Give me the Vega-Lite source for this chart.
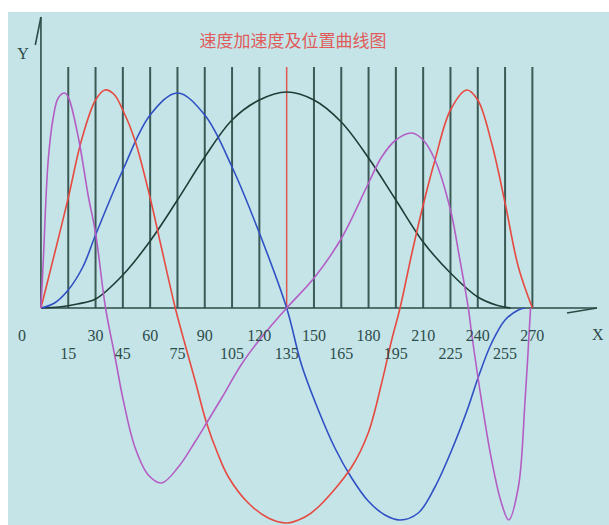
{
  "$schema": "https://vega.github.io/schema/vega-lite/v6.json",
  "width": 601,
  "height": 513,
  "autosize": {"type": "none"},
  "padding": {"left": 8, "top": 12, "right": 0, "bottom": 0},
  "background": "white",
  "config": {"view": {"fill": "#c4e4e8", "stroke": null}},
  "datasets": {
    "grid": [
      {"x": 15, "y": 0, "y2": 241}, {"x": 30, "y": 0, "y2": 241}, {"x": 45, "y": 0, "y2": 241},
      {"x": 60, "y": 0, "y2": 241}, {"x": 75, "y": 0, "y2": 241}, {"x": 90, "y": 0, "y2": 241},
      {"x": 105, "y": 0, "y2": 241}, {"x": 120, "y": 0, "y2": 241}, {"x": 150, "y": 0, "y2": 241},
      {"x": 165, "y": 0, "y2": 241}, {"x": 180, "y": 0, "y2": 241}, {"x": 195, "y": 0, "y2": 241},
      {"x": 210, "y": 0, "y2": 241}, {"x": 225, "y": 0, "y2": 241}, {"x": 240, "y": 0, "y2": 241},
      {"x": 255, "y": 0, "y2": 241}, {"x": 270, "y": 0, "y2": 241}
    ],
    "mid": [{"x": 135, "y": 0, "y2": 241}],
    "axes": [
      {"x": 0, "y": 0, "x2": 0, "y2": 291},
      {"x": 0, "y": 291, "x2": -3.1, "y2": 263},
      {"x": 0, "y": 0, "x2": 305.5, "y2": 0},
      {"x": 289, "y": -5, "x2": 305.5, "y2": 0}
    ],
    "curves": [
      {"s": "pos", "x": 0, "y": 0}, {"s": "pos", "x": 10, "y": 1}, {"s": "pos", "x": 20, "y": 4},
      {"s": "pos", "x": 30, "y": 9}, {"s": "pos", "x": 45, "y": 33}, {"s": "pos", "x": 60, "y": 67},
      {"s": "pos", "x": 75, "y": 108}, {"s": "pos", "x": 90, "y": 151}, {"s": "pos", "x": 105, "y": 188},
      {"s": "pos", "x": 120, "y": 208}, {"s": "pos", "x": 135, "y": 216}, {"s": "pos", "x": 150, "y": 208},
      {"s": "pos", "x": 165, "y": 186}, {"s": "pos", "x": 180, "y": 150}, {"s": "pos", "x": 195, "y": 108},
      {"s": "pos", "x": 210, "y": 66}, {"s": "pos", "x": 225, "y": 35}, {"s": "pos", "x": 240, "y": 11},
      {"s": "pos", "x": 250, "y": 3}, {"s": "pos", "x": 258, "y": 0},

      {"s": "vel", "x": 0, "y": 0}, {"s": "vel", "x": 7.5, "y": 5}, {"s": "vel", "x": 15, "y": 18},
      {"s": "vel", "x": 23, "y": 41}, {"s": "vel", "x": 30, "y": 73}, {"s": "vel", "x": 45, "y": 138},
      {"s": "vel", "x": 60, "y": 193}, {"s": "vel", "x": 75, "y": 215}, {"s": "vel", "x": 90, "y": 193},
      {"s": "vel", "x": 105, "y": 141}, {"s": "vel", "x": 120, "y": 75}, {"s": "vel", "x": 135, "y": 0},
      {"s": "vel", "x": 143.2, "y": -57}, {"s": "vel", "x": 152.4, "y": -102}, {"s": "vel", "x": 161.5, "y": -140},
      {"s": "vel", "x": 170.7, "y": -170}, {"s": "vel", "x": 179.8, "y": -193}, {"s": "vel", "x": 189, "y": -207},
      {"s": "vel", "x": 197.3, "y": -212}, {"s": "vel", "x": 207.3, "y": -205}, {"s": "vel", "x": 216.5, "y": -179},
      {"s": "vel", "x": 225.7, "y": -142}, {"s": "vel", "x": 234.8, "y": -99}, {"s": "vel", "x": 240.3, "y": -69},
      {"s": "vel", "x": 247.6, "y": -35}, {"s": "vel", "x": 255, "y": -12}, {"s": "vel", "x": 262.3, "y": -2},
      {"s": "vel", "x": 266, "y": 0},

      {"s": "acc", "x": 0, "y": 0}, {"s": "acc", "x": 7.7, "y": 56}, {"s": "acc", "x": 15, "y": 110},
      {"s": "acc", "x": 22.3, "y": 168}, {"s": "acc", "x": 30, "y": 208}, {"s": "acc", "x": 35.2, "y": 218},
      {"s": "acc", "x": 40, "y": 214}, {"s": "acc", "x": 45, "y": 198}, {"s": "acc", "x": 51.6, "y": 168},
      {"s": "acc", "x": 60, "y": 110}, {"s": "acc", "x": 66, "y": 62}, {"s": "acc", "x": 73.8, "y": 0},
      {"s": "acc", "x": 77.3, "y": -24}, {"s": "acc", "x": 84.6, "y": -72}, {"s": "acc", "x": 91, "y": -115},
      {"s": "acc", "x": 97, "y": -145}, {"s": "acc", "x": 103, "y": -169}, {"s": "acc", "x": 113.9, "y": -195},
      {"s": "acc", "x": 124.9, "y": -210}, {"s": "acc", "x": 135, "y": -215}, {"s": "acc", "x": 145, "y": -209},
      {"s": "acc", "x": 152.4, "y": -199}, {"s": "acc", "x": 170.7, "y": -159}, {"s": "acc", "x": 179.8, "y": -125},
      {"s": "acc", "x": 187.2, "y": -75}, {"s": "acc", "x": 192.7, "y": -32}, {"s": "acc", "x": 197.3, "y": 0},
      {"s": "acc", "x": 203.7, "y": 54}, {"s": "acc", "x": 210, "y": 103}, {"s": "acc", "x": 216.5, "y": 148},
      {"s": "acc", "x": 225, "y": 198}, {"s": "acc", "x": 233.9, "y": 218}, {"s": "acc", "x": 240, "y": 208},
      {"s": "acc", "x": 247.6, "y": 165}, {"s": "acc", "x": 255, "y": 105}, {"s": "acc", "x": 262.3, "y": 41},
      {"s": "acc", "x": 270, "y": 0},

      {"s": "jerk", "x": 0, "y": 0}, {"s": "jerk", "x": 1.3, "y": 48}, {"s": "jerk", "x": 4, "y": 148},
      {"s": "jerk", "x": 6.8, "y": 191}, {"s": "jerk", "x": 9.5, "y": 210}, {"s": "jerk", "x": 13, "y": 215},
      {"s": "jerk", "x": 15, "y": 211}, {"s": "jerk", "x": 20.5, "y": 171}, {"s": "jerk", "x": 26, "y": 112},
      {"s": "jerk", "x": 30, "y": 75}, {"s": "jerk", "x": 35.5, "y": 0}, {"s": "jerk", "x": 40.7, "y": -49},
      {"s": "jerk", "x": 45.2, "y": -92}, {"s": "jerk", "x": 51.6, "y": -139}, {"s": "jerk", "x": 59, "y": -167},
      {"s": "jerk", "x": 66.3, "y": -175}, {"s": "jerk", "x": 75.5, "y": -159}, {"s": "jerk", "x": 84.6, "y": -134},
      {"s": "jerk", "x": 91, "y": -115}, {"s": "jerk", "x": 99.3, "y": -90}, {"s": "jerk", "x": 110.3, "y": -56},
      {"s": "jerk", "x": 121.3, "y": -29}, {"s": "jerk", "x": 135, "y": 0}, {"s": "jerk", "x": 150.5, "y": 31},
      {"s": "jerk", "x": 165.2, "y": 70}, {"s": "jerk", "x": 180, "y": 125}, {"s": "jerk", "x": 187.2, "y": 151},
      {"s": "jerk", "x": 195, "y": 168}, {"s": "jerk", "x": 203.7, "y": 175}, {"s": "jerk", "x": 210, "y": 168},
      {"s": "jerk", "x": 216.5, "y": 148}, {"s": "jerk", "x": 225, "y": 98}, {"s": "jerk", "x": 230.2, "y": 48},
      {"s": "jerk", "x": 234.8, "y": 0}, {"s": "jerk", "x": 236.6, "y": -25}, {"s": "jerk", "x": 242, "y": -92},
      {"s": "jerk", "x": 247.6, "y": -152}, {"s": "jerk", "x": 253, "y": -195}, {"s": "jerk", "x": 257, "y": -212},
      {"s": "jerk", "x": 262.3, "y": -179}, {"s": "jerk", "x": 266, "y": -92}, {"s": "jerk", "x": 269, "y": 0}
    ],
    "labels": [
      {"x": -10.4, "y": -28, "t": "0"}, {"x": 30, "y": -28, "t": "30"}, {"x": 60, "y": -28, "t": "60"},
      {"x": 90, "y": -28, "t": "90"}, {"x": 120, "y": -28, "t": "120"}, {"x": 150, "y": -28, "t": "150"},
      {"x": 180, "y": -28, "t": "180"}, {"x": 210, "y": -28, "t": "210"}, {"x": 240, "y": -28, "t": "240"},
      {"x": 270, "y": -28, "t": "270"},
      {"x": 15, "y": -46, "t": "15"}, {"x": 45, "y": -46, "t": "45"}, {"x": 75, "y": -46, "t": "75"},
      {"x": 105, "y": -46, "t": "105"}, {"x": 135, "y": -46, "t": "135"}, {"x": 165, "y": -46, "t": "165"},
      {"x": 195, "y": -46, "t": "195"}, {"x": 225, "y": -46, "t": "225"}, {"x": 255, "y": -46, "t": "255"},
      {"x": 306, "y": -27, "t": "X"}, {"x": -9.9, "y": 254, "t": "Y"}
    ],
    "title": [{"x": 138.5, "y": 266, "t": "速度加速度及位置曲线图"}]
  },
  "encoding": {
    "x": {"field": "x", "type": "quantitative", "scale": {"domain": [-18.1, 312.1], "nice": false, "zero": false}, "axis": null},
    "y": {"field": "y", "type": "quantitative", "scale": {"domain": [-217, 296], "nice": false, "zero": false}, "axis": null}
  },
  "layer": [
    {
      "data": {"name": "grid"},
      "mark": {"type": "rule", "color": "#3b5a55", "strokeWidth": 2},
      "encoding": {"y2": {"field": "y2"}}
    },
    {
      "data": {"name": "mid"},
      "mark": {"type": "rule", "color": "#e0564e", "strokeWidth": 1.5},
      "encoding": {"y2": {"field": "y2"}}
    },
    {
      "data": {"name": "axes"},
      "mark": {"type": "rule", "color": "#2e4c47", "strokeWidth": 1.6},
      "encoding": {"x2": {"field": "x2"}, "y2": {"field": "y2"}}
    },
    {
      "data": {"name": "curves"},
      "mark": {"type": "line", "interpolate": "catmull-rom", "strokeWidth": 1.6},
      "encoding": {
        "detail": {"field": "s"},
        "color": {"field": "s", "type": "nominal", "legend": null,
          "scale": {"domain": ["pos", "vel", "acc", "jerk"], "range": ["#1f3d36", "#3050c4", "#e64a40", "#b45ec4"]}}
      }
    },
    {
      "data": {"name": "labels"},
      "mark": {"type": "text", "font": "Liberation Serif", "fontSize": 16, "color": "#2e4c4a", "baseline": "middle", "align": "center"},
      "encoding": {"text": {"field": "t"}}
    },
    {
      "data": {"name": "title"},
      "mark": {"type": "text", "font": "Noto Sans CJK SC", "fontSize": 17, "color": "#e05a5a", "baseline": "middle", "align": "center"},
      "encoding": {"text": {"field": "t"}}
    }
  ]
}
